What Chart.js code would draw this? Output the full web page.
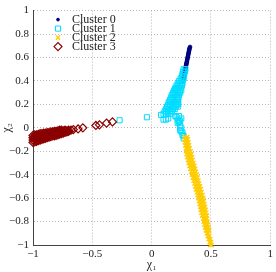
<!DOCTYPE html>
<html>
<head>
<meta charset="utf-8">
<script src="https://cdn.jsdelivr.net/npm/chart.js@4.4.0/dist/chart.umd.min.js"></script>
<style>
  html, body { margin: 0; padding: 0; background: #fff; }
  canvas { display: block; }
</style>
</head>
<body>
<canvas id="chart" width="276" height="272"></canvas>
<script>
// --- data: [chi1, chi2] pairs per cluster ---
const cluster0 = [
    [0.264, 0.40], [0.266, 0.41], [0.268, 0.42], [0.270, 0.43], [0.272, 0.44], [0.274, 0.45],
    [0.276, 0.46], [0.278, 0.47], [0.280, 0.48], [0.282, 0.49], [0.284, 0.50], [0.286, 0.51],
    [0.288, 0.52], [0.290, 0.53], [0.292, 0.54], [0.294, 0.55], [0.296, 0.56], [0.298, 0.57],
    [0.300, 0.58], [0.302, 0.59], [0.304, 0.60], [0.306, 0.61], [0.308, 0.62], [0.310, 0.63],
    [0.312, 0.64], [0.314, 0.65], [0.316, 0.66], [0.318, 0.67], [0.320, 0.68], [0.324, 0.69]
];
const cluster1 = [
    // dense band
    [0.27, 0.50], [0.285, 0.50],
    [0.265, 0.48], [0.28, 0.48],
    [0.26, 0.46], [0.275, 0.46],
    [0.255, 0.44], [0.27, 0.44],
    [0.245, 0.42], [0.26, 0.42], [0.27, 0.42],
    [0.23, 0.40], [0.245, 0.40], [0.26, 0.40],
    [0.22, 0.38], [0.235, 0.38], [0.25, 0.38], [0.26, 0.38],
    [0.21, 0.36], [0.225, 0.36], [0.24, 0.36], [0.255, 0.36],
    [0.20, 0.34], [0.215, 0.34], [0.23, 0.34], [0.245, 0.34],
    [0.19, 0.32], [0.205, 0.32], [0.22, 0.32], [0.235, 0.32], [0.25, 0.32],
    [0.18, 0.30], [0.195, 0.30], [0.21, 0.30], [0.225, 0.30], [0.24, 0.30],
    [0.17, 0.28], [0.185, 0.28], [0.20, 0.28], [0.215, 0.28], [0.23, 0.28],
    [0.165, 0.26], [0.18, 0.26], [0.195, 0.26], [0.21, 0.26], [0.225, 0.26],
    [0.155, 0.24], [0.17, 0.24], [0.185, 0.24], [0.20, 0.24], [0.215, 0.24], [0.225, 0.24],
    [0.145, 0.22], [0.16, 0.22], [0.175, 0.22], [0.19, 0.22], [0.205, 0.22], [0.22, 0.22],
    [0.14, 0.20], [0.155, 0.20], [0.17, 0.20], [0.185, 0.20], [0.20, 0.20], [0.215, 0.20], [0.225, 0.20],
    [0.13, 0.18], [0.145, 0.18], [0.16, 0.18], [0.175, 0.18], [0.19, 0.18], [0.205, 0.18], [0.22, 0.18],
    [0.12, 0.16], [0.135, 0.16], [0.15, 0.16], [0.165, 0.16], [0.18, 0.16], [0.195, 0.16],
    [0.11, 0.14], [0.125, 0.14], [0.14, 0.14], [0.155, 0.14], [0.17, 0.14],
    [0.10, 0.12], [0.12, 0.12], [0.14, 0.12], [0.16, 0.12],
    // scattered squares
    [0.20, 0.33],
    [-0.27, 0.064], [-0.04, 0.09], [0.08, 0.11], [0.10, 0.07], [0.12, 0.07], [0.14, 0.08],
    [0.20, 0.10], [0.23, 0.10], [0.21, 0.09], [0.25, 0.08], [0.22, 0.07], [0.24, 0.06],
    [0.23, 0.05], [0.22, 0.04], [0.24, 0.02], [0.25, 0.00], [0.24, -0.02], [0.25, -0.03],
    [0.26, -0.04], [0.26, -0.06], [0.27, -0.07], [0.27, -0.09]
];
const cluster2 = [
    [0.28, -0.08], [0.30, -0.08],
    [0.28, -0.10], [0.295, -0.10], [0.305, -0.10],
    [0.28, -0.125], [0.295, -0.125], [0.31, -0.125],
    [0.285, -0.15], [0.30, -0.15], [0.315, -0.15],
    [0.29, -0.175], [0.305, -0.175], [0.32, -0.175],
    [0.29, -0.20], [0.31, -0.20], [0.33, -0.20],
    [0.295, -0.225], [0.315, -0.225], [0.335, -0.225],
    [0.30, -0.25], [0.32, -0.25], [0.34, -0.25],
    [0.306, -0.275], [0.326, -0.275], [0.346, -0.275],
    [0.313, -0.30], [0.333, -0.30], [0.353, -0.30],
    [0.32, -0.325], [0.34, -0.325], [0.36, -0.325],
    [0.327, -0.35], [0.347, -0.35], [0.367, -0.35],
    [0.333, -0.375], [0.353, -0.375], [0.373, -0.375],
    [0.34, -0.40], [0.36, -0.40], [0.38, -0.40],
    [0.347, -0.425], [0.367, -0.425], [0.387, -0.425],
    [0.354, -0.45], [0.374, -0.45], [0.394, -0.45],
    [0.361, -0.475], [0.381, -0.475], [0.401, -0.475],
    [0.368, -0.50], [0.388, -0.50], [0.408, -0.50],
    [0.374, -0.525], [0.394, -0.525], [0.414, -0.525],
    [0.381, -0.55], [0.401, -0.55], [0.421, -0.55],
    [0.388, -0.575], [0.408, -0.575], [0.428, -0.575],
    [0.395, -0.60], [0.415, -0.60], [0.435, -0.60],
    [0.40, -0.625], [0.42, -0.625], [0.44, -0.625],
    [0.405, -0.65], [0.425, -0.65], [0.445, -0.65],
    [0.41, -0.675], [0.43, -0.675], [0.45, -0.675],
    [0.415, -0.70], [0.435, -0.70], [0.455, -0.70],
    [0.42, -0.725], [0.44, -0.725], [0.46, -0.725],
    [0.425, -0.75], [0.445, -0.75], [0.465, -0.75],
    [0.435, -0.775], [0.45, -0.775], [0.465, -0.775],
    [0.44, -0.80], [0.455, -0.80], [0.47, -0.80],
    [0.445, -0.825], [0.46, -0.825], [0.475, -0.825],
    [0.45, -0.85], [0.466, -0.85], [0.48, -0.85],
    [0.458, -0.875], [0.472, -0.875], [0.486, -0.875],
    [0.465, -0.90], [0.478, -0.90],
    [0.472, -0.925], [0.486, -0.925],
    [0.48, -0.95], [0.495, -0.95],
    [0.49, -0.975], [0.50, -0.975],
    [0.495, -1.00], [0.505, -1.00]
];
const cluster3 = [
    [-1.000, -0.125], [-1.000, -0.105], [-1.000, -0.085], [-1.000, -0.065],
    [-0.985, -0.120], [-0.985, -0.100], [-0.985, -0.080], [-0.985, -0.060],
    [-0.970, -0.115], [-0.970, -0.095], [-0.970, -0.075], [-0.970, -0.060],
    [-0.955, -0.110], [-0.955, -0.090], [-0.955, -0.070], [-0.955, -0.055],
    [-0.940, -0.105], [-0.940, -0.085], [-0.940, -0.070], [-0.940, -0.050],
    [-0.925, -0.100], [-0.925, -0.080], [-0.925, -0.065], [-0.925, -0.050],
    [-0.910, -0.095], [-0.910, -0.080], [-0.910, -0.060], [-0.910, -0.045],
    [-0.895, -0.090], [-0.895, -0.075], [-0.895, -0.060], [-0.895, -0.045],
    [-0.880, -0.085], [-0.880, -0.070], [-0.880, -0.055], [-0.880, -0.040],
    [-0.865, -0.080], [-0.865, -0.065], [-0.865, -0.050], [-0.865, -0.040],
    [-0.850, -0.075], [-0.850, -0.060], [-0.850, -0.050], [-0.850, -0.035],
    [-0.835, -0.070], [-0.835, -0.060], [-0.835, -0.045], [-0.835, -0.035],
    [-0.820, -0.070], [-0.820, -0.055], [-0.820, -0.040], [-0.820, -0.030],
    [-0.805, -0.065], [-0.805, -0.050], [-0.805, -0.040], [-0.805, -0.030],
    [-0.790, -0.060], [-0.790, -0.045], [-0.790, -0.035], [-0.790, -0.025],
    [-0.775, -0.055], [-0.775, -0.045], [-0.775, -0.030], [-0.775, -0.020],
    [-0.760, -0.050], [-0.760, -0.040], [-0.760, -0.030], [-0.760, -0.020],
    [-0.745, -0.045], [-0.745, -0.035], [-0.745, -0.025],
    [-0.730, -0.040], [-0.730, -0.030], [-0.730, -0.020],
    [-0.715, -0.035], [-0.715, -0.025],
    [-0.700, -0.030], [-0.700, -0.020],
    [-0.68, -0.020], [-0.66, -0.015], [-0.62, -0.010], [-0.58, 0.000],
    [-0.47, 0.020], [-0.44, 0.025], [-0.38, 0.040], [-0.33, 0.050]
];
const clusterNames = ['Cluster 0', 'Cluster 1', 'Cluster 2', 'Cluster 3'];
const xTicks = [-1, -0.5, 0, 0.5, 1];
const yTicks = [-1, -0.8, -0.6, -0.4, -0.2, 0, 0.2, 0.4, 0.6, 0.8, 1];

// marker look per cluster (matplotlib-ish)
const markerStyles = [
    { color: '#000080', fill: '#000080', shape: 'circle', r: 1.8, lw: 1 },
    { color: '#00dcff', fill: 'rgba(0,0,0,0)', shape: 'rect', r: 3.6, lw: 1 },
    { color: '#ffcc00', fill: '#ffcc00', shape: 'crossRot', r: 3, lw: 1.3 },
    { color: '#8b0000', fill: 'rgba(0,0,0,0)', shape: 'rectRot', r: 4, lw: 1.2 }
];

const toXY = (pts) => pts.map(p => ({ x: p[0], y: p[1] }));
const fmt = (v) => String(v).replace('-', '\u2212');
const serif = '"Liberation Serif", "DejaVu Serif", serif';

Chart.defaults.font.family = serif;
Chart.defaults.color = '#222';

// legend drawn inside the plot, top-left, no frame
const insideLegend = {
    id: 'insideLegend',
    afterDraw(chart) {
        const ctx = chart.ctx;
        const x0 = chart.chartArea.left + 25;
        const y0 = chart.chartArea.top + 9;
        ctx.save();
        ctx.font = '12px ' + serif;
        ctx.textBaseline = 'middle';
        clusterNames.forEach((name, i) => {
            const st = markerStyles[i];
            const y = y0 + i * 9;
            ctx.fillStyle = st.fill;
            ctx.strokeStyle = st.color;
            ctx.lineWidth = st.lw;
            Chart.helpers.drawPoint(ctx, { pointStyle: st.shape, radius: i === 0 ? 1.4 : st.r, borderWidth: st.lw, rotation: 0 }, x0, y);
            ctx.fillStyle = '#222';
            ctx.fillText(name, x0 + 14, y + 0.5);
        });
        ctx.restore();
    }
};

const datasets = [cluster0, cluster1, cluster2, cluster3].map((pts, i) => ({
    label: clusterNames[i],
    data: toXY(pts),
    pointStyle: markerStyles[i].shape,
    pointRadius: markerStyles[i].r,
    borderWidth: markerStyles[i].lw,
    borderColor: markerStyles[i].color,
    backgroundColor: markerStyles[i].fill,
    order: 3 - i,      // later clusters on top, as in the original
    clip: false
}));

new Chart(document.getElementById('chart'), {
    type: 'scatter',
    data: { datasets },
    options: {
        responsive: false,
        animation: false,
        devicePixelRatio: 1,
        layout: { padding: { left: 0, top: 5, right: 3, bottom: 0 } },
        plugins: { legend: { display: false }, tooltip: { enabled: false } },
        scales: {
            x: {
                type: 'linear', min: -1, max: 1,
                afterBuildTicks: (s) => { s.ticks = xTicks.map(v => ({ value: v })); },
                afterFit: (s) => { s.height = 27; },
                ticks: { callback: fmt, padding: 3, autoSkip: false, maxRotation: 0, font: { size: 11 } },
                grid: { color: '#b8b8b8', drawTicks: false },
                border: { color: '#444', width: 1, dash: [1, 2] },
                title: { display: true, text: 'χ₁', padding: 0, font: { size: 12 } }
            },
            y: {
                type: 'linear', min: -1, max: 1,
                afterBuildTicks: (s) => { s.ticks = yTicks.map(v => ({ value: v })); },
                afterFit: (s) => { s.width = 33; },
                ticks: { callback: fmt, padding: 4, autoSkip: false, font: { size: 11 } },
                grid: { color: '#b8b8b8', drawTicks: false },
                border: { color: '#444', width: 1, dash: [1, 2] },
                title: { display: true, text: 'χ₂', padding: 0, font: { size: 12 } }
            }
        }
    },
    plugins: [insideLegend]
});
</script>
</body>
</html>
